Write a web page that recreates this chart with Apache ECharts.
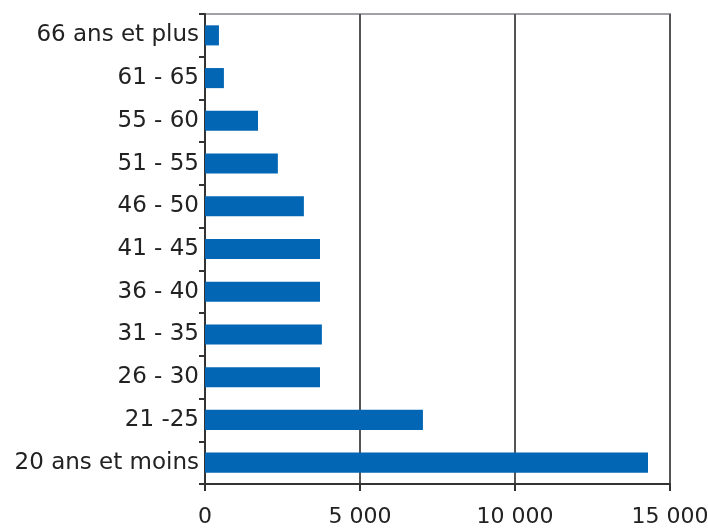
<!DOCTYPE html>
<html>
<head>
<meta charset="utf-8">
<script src="https://cdn.jsdelivr.net/npm/echarts@6/dist/echarts.min.js"></script>
<style>
  html, body { margin: 0; padding: 0; background: #fff; }
  #chart { width: 708px; height: 532px; }
</style>
</head>
<body>
<div id="chart"></div>
<script>
// tranches d'âge (du haut vers le bas)
const categories = ['66 ans et plus', '61 - 65', '55 - 60', '51 - 55', '46 - 50', '41 - 45',
  '36 - 40', '31 - 35', '26 - 30', '21 -25', '20 ans et moins']
const values = [450, 610, 1710, 2350, 3190, 3710, 3710, 3770, 3710, 7030, 14290]
const xTicks = [0, 5000, 10000, 15000]

const chart = echarts.init(document.getElementById('chart'))
const option = {
  animation: false,
  grid: {
    left: 205,
    right: 38,
    top: 14,
    bottom: 48,
    outerBoundsMode: 'none',
    containLabel: false,
    show: true,
    borderColor: '#a0a0a8',
    borderWidth: 2
  },
  xAxis: {
    type: 'value',
    min: xTicks[0],
    max: xTicks[xTicks.length - 1],
    interval: 5000,
    axisLine: { show: true, lineStyle: { color: '#333', width: 2 } },
    axisTick: { show: true, length: 7, lineStyle: { color: '#333', width: 2 } },
    splitLine: { show: true, lineStyle: { color: '#555', width: 2 } },
    axisLabel: {
      margin: 22,
      color: '#222',
      fontFamily: 'DejaVu Sans',
      fontSize: 22,
      hideOverlap: false,
      formatter: v => String(v).replace(/\B(?=(\d{3})+(?!\d))/g, ' ')
    }
  },
  yAxis: {
    type: 'category',
    inverse: true,
    data: categories,
    axisLine: { show: true, lineStyle: { color: '#333', width: 2 } },
    axisTick: { show: true, length: 6, lineStyle: { color: '#333', width: 2 } },
    axisLabel: {
      margin: 6,
      color: '#222',
      fontFamily: 'DejaVu Sans',
      fontSize: 23
    }
  },
  series: [
    {
      type: 'bar',
      data: values,
      barCategoryGap: '53%',
      itemStyle: { color: '#0366b4' }
    }
  ]
}
chart.setOption(option)
</script>
</body>
</html>
